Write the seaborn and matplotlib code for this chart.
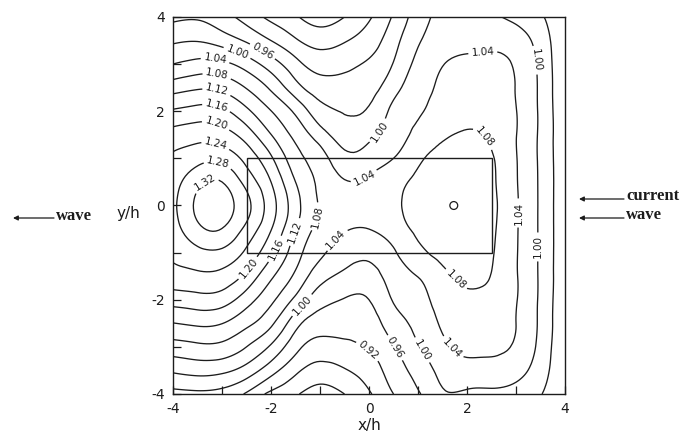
import numpy as np
import matplotlib
matplotlib.use("Agg")
import matplotlib.pyplot as plt
import matplotlib.tri as mtri
from matplotlib.patches import Rectangle, FancyArrowPatch
import seaborn as sns

# Grid nodes (x/h, y/h)
x_nodes = [-4.0, -3.5, -3.0, -2.5, -2.0, -1.5, -1.0, -0.5, 0.0, 0.5, 1.0, 1.5, 2.0, 2.5, 3.0, 3.5, 4.0]
y_nodes = [4.0, 3.5, 3.0, 2.5, 2.0, 1.5, 1.0, 0.5, 0.0, -0.5, -1.0, -1.5, -2.0, -2.5, -3.0, -3.5, -4.0]

# Amplification ratio along each row of constant y/h (top row first)
row_p40 = [0.950, 0.955, 0.935, 0.905, 0.870, 0.845, 0.820, 0.840, 0.875, 0.925, 0.980, 1.010, 1.012, 1.005, 0.990, 0.965, 0.930]
row_p35 = [0.994, 0.998, 0.982, 0.955, 0.920, 0.885, 0.864, 0.877, 0.900, 0.945, 0.995, 1.022, 1.029, 1.030, 1.020, 0.982, 0.925]
row_p30 = [1.040, 1.053, 1.050, 1.022, 0.980, 0.933, 0.904, 0.910, 0.926, 0.962, 1.012, 1.039, 1.046, 1.047, 1.036, 0.990, 0.925]
row_p25 = [1.103, 1.115, 1.110, 1.078, 1.033, 0.976, 0.939, 0.936, 0.945, 0.985, 1.025, 1.045, 1.052, 1.052, 1.039, 0.992, 0.925]
row_p20 = [1.165, 1.175, 1.169, 1.129, 1.081, 1.032, 0.976, 0.958, 0.965, 1.010, 1.035, 1.058, 1.068, 1.065, 1.041, 0.993, 0.925]
row_p15 = [1.215, 1.225, 1.218, 1.181, 1.121, 1.069, 1.019, 0.980, 0.990, 1.019, 1.052, 1.076, 1.082, 1.075, 1.041, 0.993, 0.925]
row_p10 = [1.247, 1.266, 1.268, 1.227, 1.166, 1.096, 1.057, 1.012, 1.018, 1.040, 1.073, 1.089, 1.090, 1.083, 1.042, 0.993, 0.925]
row_p05 = [1.262, 1.309, 1.320, 1.266, 1.200, 1.120, 1.072, 1.043, 1.048, 1.068, 1.088, 1.099, 1.098, 1.086, 1.043, 0.994, 0.925]
row_00 = [1.270, 1.328, 1.338, 1.292, 1.218, 1.136, 1.077, 1.062, 1.062, 1.074, 1.093, 1.102, 1.100, 1.088, 1.045, 0.994, 0.925]
row_m05 = [1.262, 1.310, 1.319, 1.269, 1.202, 1.121, 1.068, 1.044, 1.040, 1.062, 1.087, 1.099, 1.098, 1.086, 1.044, 0.994, 0.925]
row_m10 = [1.248, 1.269, 1.271, 1.232, 1.169, 1.098, 1.048, 1.019, 1.009, 1.035, 1.070, 1.089, 1.093, 1.083, 1.043, 0.994, 0.925]
row_m15 = [1.224, 1.231, 1.227, 1.189, 1.127, 1.072, 1.016, 0.990, 0.984, 1.018, 1.041, 1.072, 1.085, 1.079, 1.043, 0.994, 0.925]
row_m20 = [1.177, 1.184, 1.179, 1.138, 1.089, 1.030, 0.976, 0.958, 0.960, 1.003, 1.025, 1.059, 1.074, 1.068, 1.042, 0.993, 0.925]
row_m25 = [1.119, 1.127, 1.121, 1.090, 1.048, 0.975, 0.939, 0.936, 0.942, 0.981, 1.011, 1.046, 1.061, 1.057, 1.040, 0.992, 0.925]
row_m30 = [1.063, 1.071, 1.069, 1.040, 0.994, 0.933, 0.904, 0.910, 0.924, 0.958, 0.997, 1.031, 1.048, 1.046, 1.035, 0.988, 0.925]
row_m35 = [1.006, 1.014, 1.009, 0.983, 0.936, 0.889, 0.864, 0.877, 0.899, 0.939, 0.975, 1.012, 1.026, 1.027, 1.015, 0.978, 0.925]
row_m40 = [0.947, 0.951, 0.945, 0.915, 0.870, 0.845, 0.820, 0.840, 0.875, 0.920, 0.955, 0.995, 0.992, 0.990, 0.985, 0.962, 0.930]

contour_levels = [0.84, 0.88, 0.92, 0.96, 1.00, 1.04, 1.08, 1.12, 1.16, 1.20, 1.24, 1.28, 1.32]

# Structure footprint (half length along x/h, half width along y/h) and reference point
structure_half_length = 2.5
structure_half_width = 1.0
point_x = [1.73]
point_y = [0.0]

x_ticks = [-4, -3, -2, -1, 0, 1, 2, 3, 4]
x_tick_labels = ["-4", "", "-2", "", "0", "", "2", "", "4"]
y_ticks = [-4, -3, -2, -1, 0, 1, 2, 3, 4]
y_tick_labels = ["-4", "", "-2", "", "0", "", "2", "", "4"]

# Where the contour values are written
label_spots = [
    (-2.67, 3.30), (-2.22, 3.19), (-3.14, 3.09), (-3.10, 2.79), (-3.10, 2.47),
    (-3.10, 2.15), (-3.10, 1.79), (-3.10, 1.43), (-3.08, 0.90), (-3.24, 0.33),
    (0.29, 1.52), (-0.08, 0.56), (-0.63, -0.75), (-1.06, -0.24), (-1.47, -0.58),
    (-1.96, -0.90), (-2.49, -1.31), (-1.41, -2.07), (2.33, 3.15), (3.29, 3.07),
    (2.33, 1.43), (1.86, -1.47), (3.14, -0.16), (3.49, -0.88), (-0.06, -3.13),
    (0.53, -3.02), (1.08, -3.07), (1.76, -2.96),
]

ink = "#1c1c1c"

sns.set_theme(style="white")
plt.rcParams["font.family"] = ["DejaVu Sans"]

fig = plt.figure(figsize=(6.92, 4.37), dpi=100)
fig.patch.set_facecolor("white")
ax = fig.add_axes([0.25, 0.0984, 0.5665, 0.8627])

rows = [row_p40, row_p35, row_p30, row_p25, row_p20, row_p15, row_p10, row_p05, row_00,
        row_m05, row_m10, row_m15, row_m20, row_m25, row_m30, row_m35, row_m40]
gx, gy = np.meshgrid(x_nodes, y_nodes)
gz = np.array(rows)

tri = mtri.Triangulation(gx.ravel(), gy.ravel())
refiner = mtri.UniformTriRefiner(tri)
tri_fine, z_fine = refiner.refine_field(gz.ravel(), subdiv=3)

cs = ax.tricontour(tri_fine, z_fine, levels=contour_levels, colors=ink, linewidths=0.95)
ax.clabel(cs, levels=contour_levels, manual=label_spots, inline=True, inline_spacing=3,
          fmt="%.2f", fontsize=7.5, colors=ink)

ax.add_patch(Rectangle((-structure_half_length, -structure_half_width),
                       2 * structure_half_length, 2 * structure_half_width,
                       fill=False, lw=1.0, ec=ink))

sns.scatterplot(x=point_x, y=point_y, marker="o", s=32, facecolor="none",
                edgecolor=ink, linewidth=0.9, ax=ax, zorder=5)

ax.set_xlim(-4, 4)
ax.set_ylim(-4, 4)
ax.set_xticks(x_ticks)
ax.set_xticklabels(x_tick_labels)
ax.set_yticks(y_ticks)
ax.set_yticklabels(y_tick_labels)
ax.tick_params(direction="in", length=6, width=0.9, colors=ink, labelsize=10,
               top=False, right=False, bottom=True, left=True, pad=6)
for side in ax.spines.values():
    side.set_visible(True)
    side.set_color(ink)
    side.set_linewidth(1.0)

ax.set_xlabel("x/h", fontsize=11, color=ink, labelpad=1)
ax.set_ylabel("y/h", fontsize=11, color=ink, rotation=0, ha="center", va="center")
ax.yaxis.set_label_coords(-0.115, 0.48)

serif = ["Liberation Serif", "DejaVu Serif"]
arrow_style = dict(arrowstyle="-|>", color=ink, lw=0.9, mutation_scale=7,
                   shrinkA=0, shrinkB=0)

# incoming wave on the left
fig.text(56 / 692, 1 - 216 / 437, "wave", family=serif, fontsize=12, fontweight="bold",
         color=ink, ha="left", va="center")
fig.add_artist(FancyArrowPatch((54 / 692, 1 - 218 / 437), (13 / 692, 1 - 218 / 437),
                               transform=fig.transFigure, **arrow_style))

# current and wave direction on the right
fig.text(626 / 692, 1 - 196 / 437, "current", family=serif, fontsize=12, fontweight="bold",
         color=ink, ha="left", va="center")
fig.text(626 / 692, 1 - 215 / 437, "wave", family=serif, fontsize=12, fontweight="bold",
         color=ink, ha="left", va="center")
fig.add_artist(FancyArrowPatch((624 / 692, 1 - 199 / 437), (579 / 692, 1 - 199 / 437),
                               transform=fig.transFigure, **arrow_style))
fig.add_artist(FancyArrowPatch((624 / 692, 1 - 218 / 437), (579 / 692, 1 - 218 / 437),
                               transform=fig.transFigure, **arrow_style))

fig.savefig("out.png", dpi=100)
